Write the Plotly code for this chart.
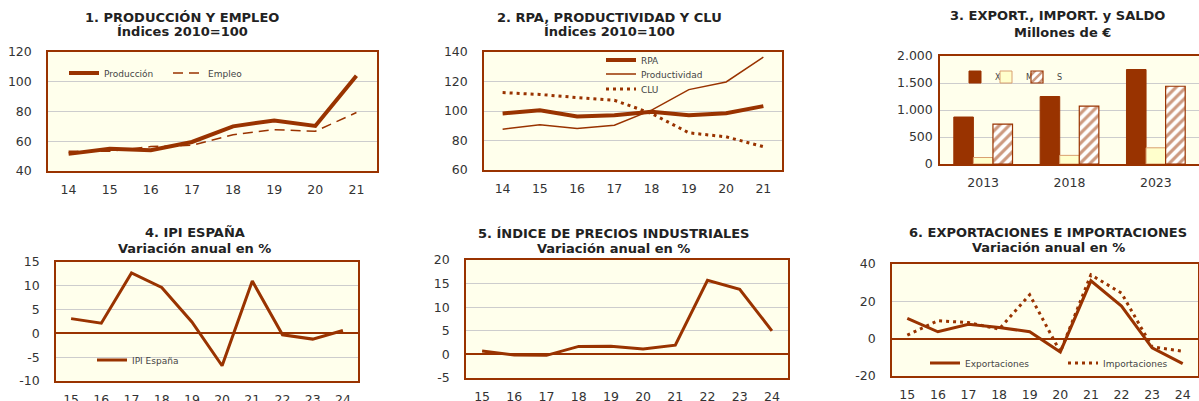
import plotly.graph_objects as go

W, H = 1199, 401
BROWN = "#993300"
BG = "#FFFFEC"
GRID = "#CDCDCD"
FONT = "DejaVu Sans"

# ---- data ----
years_a = ["14", "15", "16", "17", "18", "19", "20", "21"]
produccion = [51.5, 55.0, 54.0, 59.5, 70.0, 74.0, 70.3, 104.0]
empleo = [53.3, 53.3, 56.4, 57.3, 64.4, 67.8, 66.7, 79.3]

rpa = [98.3, 100.5, 96.3, 97.2, 99.4, 97.2, 98.5, 103.3]
productividad = [87.7, 90.6, 88.2, 90.4, 100.6, 114.5, 119.7, 136.6]
clu = [112.5, 111.2, 109.1, 107.3, 98.3, 85.2, 82.5, 75.8]

years_b = ["2013", "2018", "2023"]
export_x = [870, 1250, 1750]
import_m = [120, 160, 300]
saldo_s = [740, 1070, 1440]

years_c = ["15", "16", "17", "18", "19", "20", "21", "22", "23", "24"]
ipi = [3.1, 2.15, 12.7, 9.65, 2.4, -6.8, 11.0, -0.3, -1.2, 0.6]
ipri = [0.7, -0.15, -0.2, 1.7, 1.75, 1.15, 1.95, 15.7, 13.8, 5.0]
exportaciones = [10.9, 3.7, 7.7, 6.0, 3.7, -7.1, 31.0, 17.5, -4.9, -13.4]
importaciones = [1.9, 9.6, 8.6, 5.1, 23.5, -7.1, 34.2, 24.4, -4.4, -6.7]

# y tick labels
yticks_1 = [40, 60, 80, 100, 120]
yticks_2 = [60, 80, 100, 120, 140]
yticks_3 = [0, 500, 1000, 1500, 2000]
yticklabels_3 = ["0", "500", "1.000", "1.500", "2.000"]
yticks_4 = [-10, -5, 0, 5, 10, 15]
yticks_5 = [-5, 0, 5, 10, 15, 20]
yticks_6 = [-20, 0, 20, 40]

fig = go.Figure()


def px_x(p):
    return p / W


def px_y(p):
    return 1 - p / H


# panel geometry (pixels): left, right, top, bottom
panels = {
    1: (48, 377, 52, 171),
    2: (484, 782, 52, 170),
    3: (940, 1199, 56, 164),
    4: (56, 358, 262, 381),
    5: (466, 788, 260, 378),
    6: (892, 1198, 264, 376),
}
ncat = {1: len(years_a), 2: len(years_a), 3: len(years_b), 4: len(years_c), 5: len(years_c), 6: len(years_c)}
yranges = {1: [40, 120], 2: [60, 140], 3: [0, 2000], 4: [-10, 15], 5: [-5, 20], 6: [-20, 40]}
ytv = {1: yticks_1, 2: yticks_2, 3: yticks_3, 4: yticks_4, 5: yticks_5, 6: yticks_6}
ytt = {1: [str(v) for v in yticks_1], 2: [str(v) for v in yticks_2], 3: yticklabels_3,
       4: [str(v) for v in yticks_4], 5: [str(v) for v in yticks_5], 6: [str(v) for v in yticks_6]}

tickfont = dict(family=FONT, size=12.5, color="#333333")
for i, (l, r, t, b) in panels.items():
    sx = "" if i == 1 else str(i)
    xa = dict(
        domain=[px_x(l), px_x(r)], anchor="y" + sx, type="category",
        range=[-0.5, ncat[i] - 0.5], automargin=False,
        showline=True, mirror=True, linecolor=BROWN, linewidth=1.5,
        showgrid=False, ticks="", tickfont=tickfont, ticklabelstandoff=6,
        fixedrange=True,
    )
    ya = dict(
        domain=[px_y(b), px_y(t)], anchor="x" + sx, range=yranges[i], automargin=False,
        tickmode="array", tickvals=ytv[i], ticktext=ytt[i],
        showline=True, mirror=True, linecolor=BROWN, linewidth=1.5,
        showgrid=True, gridcolor=GRID, gridwidth=1, ticks="",
        tickfont=tickfont, ticklabelstandoff=(3 if i == 3 else 12),
        zeroline=i in (4, 5, 6), zerolinecolor=BROWN, zerolinewidth=1.5,
        fixedrange=True,
    )
    fig.layout["xaxis" + sx] = xa
    fig.layout["yaxis" + sx] = ya


def leg(text_x, y, size=9):
    return dict(
        x=px_x(text_x - 40), y=px_y(y), xanchor="left", yanchor="middle",
        bgcolor="rgba(0,0,0,0)", borderwidth=0, itemwidth=30,
        font=dict(family=FONT, size=size, color="#444444"),
    )


# Panel 1
fig.add_trace(go.Scatter(x=years_a, y=produccion, name="Producción", mode="lines",
                         line=dict(color=BROWN, width=4), xaxis="x", yaxis="y", legend="legend"))
fig.add_trace(go.Scatter(x=years_a, y=empleo, name="Empleo", mode="lines",
                         line=dict(color=BROWN, width=1.5, dash="10px,6px"), xaxis="x", yaxis="y", legend="legend2"))
fig.layout.legend = leg(104, 73)
fig.layout.legend2 = leg(208, 73)

# Panel 2
fig.add_trace(go.Scatter(x=years_a, y=rpa, name="RPA", mode="lines",
                         line=dict(color=BROWN, width=4), xaxis="x2", yaxis="y2", legend="legend3"))
fig.add_trace(go.Scatter(x=years_a, y=productividad, name="Productividad", mode="lines",
                         line=dict(color=BROWN, width=1.5), xaxis="x2", yaxis="y2", legend="legend4"))
fig.add_trace(go.Scatter(x=years_a, y=clu, name="CLU", mode="lines",
                         line=dict(color=BROWN, width=3, dash="3px,4px"), xaxis="x2", yaxis="y2", legend="legend5"))
fig.layout.legend3 = leg(641, 60)
fig.layout.legend4 = leg(641, 74)
fig.layout.legend5 = leg(641, 89)

# Panel 3
fig.add_trace(go.Bar(x=years_b, y=export_x, name="X", marker=dict(color=BROWN, line=dict(color=BROWN, width=1)),
                     xaxis="x3", yaxis="y3", legend="legend6"))
fig.add_trace(go.Bar(x=years_b, y=import_m, name="M", marker=dict(color="#FFFFCC", line=dict(color="#D9A070", width=1)),
                     xaxis="x3", yaxis="y3", legend="legend7"))
fig.add_trace(go.Bar(x=years_b, y=saldo_s, name="S",
                     marker=dict(color="white", line=dict(color=BROWN, width=1.2),
                                 pattern=dict(shape="/", fgcolor=BROWN, bgcolor="white", size=7, solidity=0.45)),
                     xaxis="x3", yaxis="y3", legend="legend8"))
fig.layout.legend6 = leg(995, 77, 8)
fig.layout.legend7 = leg(1026, 77, 8)
fig.layout.legend8 = leg(1057, 77, 8)

# Panel 4
fig.add_trace(go.Scatter(x=years_c, y=ipi, name="IPI España", mode="lines",
                         line=dict(color=BROWN, width=3), xaxis="x4", yaxis="y4", legend="legend9"))
fig.layout.legend9 = leg(132, 360)

# Panel 5
fig.add_trace(go.Scatter(x=years_c, y=ipri, name="IPRI", mode="lines", showlegend=False,
                         line=dict(color=BROWN, width=3), xaxis="x5", yaxis="y5"))

# Panel 6
fig.add_trace(go.Scatter(x=years_c, y=exportaciones, name="Exportaciones", mode="lines",
                         line=dict(color=BROWN, width=3), xaxis="x6", yaxis="y6", legend="legend10"))
fig.add_trace(go.Scatter(x=years_c, y=importaciones, name="Importaciones", mode="lines",
                         line=dict(color=BROWN, width=3, dash="3px,4px"), xaxis="x6", yaxis="y6", legend="legend11"))
fig.layout.legend10 = leg(965, 363)
fig.layout.legend11 = leg(1103, 363)

# Titles
titles = [
    (182, 17.5, "1. PRODUCCIÓN Y EMPLEO"), (182, 31.5, "Índices 2010=100"),
    (609, 17.5, "2. RPA, PRODUCTIVIDAD Y CLU"), (609, 31.5, "Índices 2010=100"),
    (1057, 15, "3. EXPORT., IMPORT. y SALDO"), (1062, 32, "Millones de €"),
    (195, 232.5, "4. IPI ESPAÑA"), (194, 248, "Variación anual en %"),
    (613, 233, "5. ÍNDICE DE PRECIOS INDUSTRIALES"), (613, 248, "Variación anual en %"),
    (1048, 232, "6. EXPORTACIONES E IMPORTACIONES"), (1048, 247, "Variación anual en %"),
]
for x, y, t in titles:
    fig.add_annotation(x=px_x(x), y=px_y(y), xref="paper", yref="paper", text="<b>" + t + "</b>",
                       showarrow=False, xanchor="center", yanchor="middle",
                       font=dict(family=FONT, size=13, color="#222222"))

fig.update_layout(
    width=W, height=H, margin=dict(l=0, r=0, t=0, b=0, autoexpand=False),
    paper_bgcolor="white", plot_bgcolor=BG,
    barmode="group", bargap=0.32, bargroupgap=0,
    font=dict(family=FONT),
)

fig.write_html(
    "out.html",
    config={"responsive": False, "displayModeBar": False},
    post_script="document.body.style.margin='0';document.body.style.overflow='hidden';",
)
